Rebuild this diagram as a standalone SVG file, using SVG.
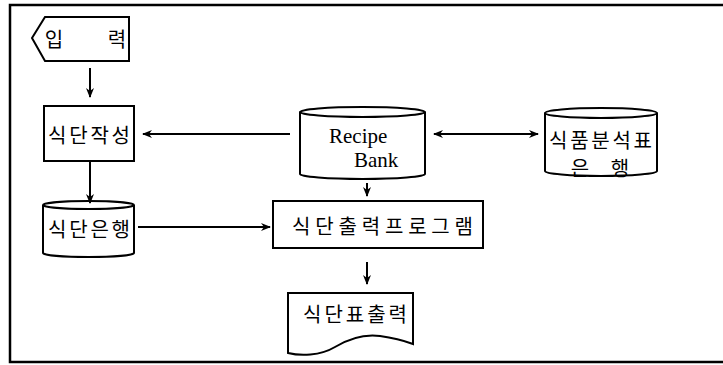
<svg xmlns="http://www.w3.org/2000/svg" width="723" height="365" viewBox="0 0 723 365">
<defs>
<style>
.s{fill:#fff;stroke:#000;stroke-width:2}
.c{fill:none;stroke:#000;stroke-width:2}
.k{font-family:"Noto Sans CJK KR","Noto Sans",sans-serif;font-size:20px;fill:#000;text-anchor:middle;dominant-baseline:central}
.r{font-family:"Liberation Serif","Times New Roman","DejaVu Serif",serif;font-size:21px;fill:#000}
.a{fill:none;stroke:#000;stroke-width:2}
</style>
<marker id="ah" viewBox="0 0 10 10" refX="9" refY="5" markerWidth="10" markerHeight="10" markerUnits="userSpaceOnUse" orient="auto-start-reverse">
<path d="M0,1 L10,5 L0,9 L3,5 Z" fill="#000"/>
</marker>
</defs>
<rect width="723" height="365" fill="#fff"/>
<path d="M723,5 H10 V362 H723" fill="none" stroke="#000" stroke-width="2.5"/>

<g id="input">
<polygon class="s" points="32,38 45,17 129,17 129,61 45,61"/>
<text class="k" x="54" y="38">입</text>
<text class="k" x="117" y="38">력</text>
</g>

<g id="menu-create">
<rect class="s" x="44" y="106" width="90" height="55"/>
<text class="k" x="89" y="134" textLength="82" lengthAdjust="spacing">식단작성</text>
</g>

<g id="recipe-bank">
<path class="s" d="M300,112 A62.5,5 0 0 1 425,112 V174 A62.5,5 0 0 1 300,174 Z"/>
<path class="c" d="M300,112 A62.5,5 0 0 0 425,112"/>
<text class="r" x="329" y="143">Recipe</text>
<text class="r" x="354" y="167">Bank</text>
</g>

<g id="food-table-bank">
<path class="s" d="M545,113 A56,5 0 0 1 657,113 V171 A56,5 0 0 1 545,171 Z"/>
<path class="c" d="M545,113 A56,5 0 0 0 657,113"/>
<text class="k" x="600.5" y="139" font-size="19" textLength="103" lengthAdjust="spacing">식품분석표</text>
<text class="k" x="580" y="167.5" font-size="19">은</text>
<text class="k" x="620" y="167.5" font-size="19">행</text>
</g>

<g id="menu-bank">
<path class="s" d="M43,205 A45.5,4 0 0 1 134,205 V253 A45.5,4 0 0 1 43,253 Z"/>
<path class="c" d="M43,205 A45.5,4 0 0 0 134,205"/>
<text class="k" x="89" y="228" textLength="82" lengthAdjust="spacing">식단은행</text>
</g>

<g id="menu-program">
<rect class="s" x="273" y="201" width="210" height="47"/>
<text class="k" x="382.5" y="225" textLength="181" lengthAdjust="spacing">식단출력프로그램</text>
</g>

<g id="menu-print">
<path class="s" d="M288,293 H413 V344 C405,341 395,338 380,336 C365,334 350,338 335,347 C320,356 300,356 288,353 Z"/>
<text class="k" x="355" y="313" textLength="104" lengthAdjust="spacing">식단표출력</text>
</g>

<g id="connectors">
<path class="a" d="M90,68 V97" marker-end="url(#ah)"/>
<path class="a" d="M290,134 H143" marker-end="url(#ah)"/>
<path class="a" d="M90,161 V203" marker-end="url(#ah)"/>
<path class="a" d="M138,227 H270" marker-end="url(#ah)"/>
<path class="a" d="M367,183 V196" marker-end="url(#ah)"/>
<path class="a" d="M434,134 H538" marker-start="url(#ah)" marker-end="url(#ah)"/>
<path class="a" d="M367,262 V284" marker-end="url(#ah)"/>
</g>
</svg>
